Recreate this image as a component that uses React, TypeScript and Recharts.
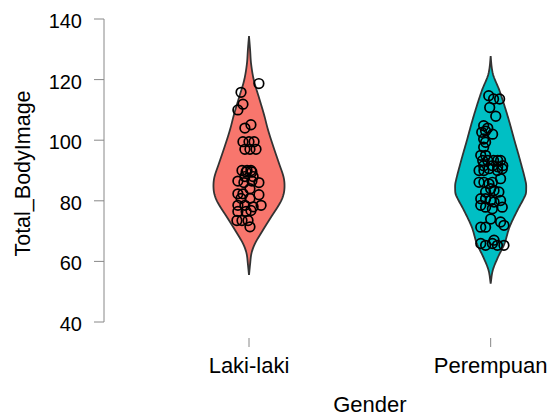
import React from 'react';
import { ComposedChart, Scatter, XAxis, YAxis } from 'recharts';

const categories = ['Laki-laki', 'Perempuan'];
const categoryPositions = [1, 2];
const yTicks = [40, 60, 80, 100, 120, 140];
const fills = ['#F8766D', '#00BFC4'];

// observed scores (Total_BodyImage) and horizontal jitter (x-axis units)
const lakiValues = [118.7, 115.8, 111.9, 110.0, 105.1, 104.0, 99.5, 99.5, 99.5, 97, 97, 97, 90, 90, 90, 89.5, 89.5, 88, 88, 86.5, 86, 86.5, 86, 84, 82.3, 82.3, 82, 80.8, 80.8, 78.5, 78.5, 78, 78.5, 76.5, 76.5, 76.8, 73.5, 73.5, 73.5, 71.4];
const lakiJitter = [0.041, -0.033, -0.025, -0.046, 0.008, -0.017, -0.025, 0, 0.021, -0.017, 0.004, 0.029, -0.029, -0.008, 0.008, -0.012, 0.012, -0.017, 0.017, -0.046, -0.021, 0.012, 0.041, 0.004, -0.046, -0.025, 0.041, -0.033, 0.004, -0.046, -0.017, 0.017, 0.05, -0.046, -0.012, 0.008, -0.05, -0.029, -0.004, 0.004];

const perempuanValues = [114.7, 113.6, 113.6, 110.8, 107.9, 104.8, 104, 103, 102.6, 102, 100.4, 99.3, 97.7, 95, 95, 93.3, 93.3, 93.3, 93.3, 93.3, 91.6, 91.6, 91.2, 91.6, 90, 90, 90.6, 90, 90.6, 86.1, 86.1, 85.6, 86.1, 87.3, 84, 83.4, 82.9, 82.9, 80.7, 80.7, 80.1, 79.6, 80.1, 78.5, 77.9, 77.4, 77.9, 74, 73, 71.9, 71.3, 71.3, 65.9, 65.3, 65.9, 65.3, 65.3, 67];
const perempuanJitter = [-0.008, 0.012, 0.037, -0.004, 0.021, -0.029, -0.012, -0.021, -0.037, 0.008, -0.029, -0.021, -0.029, -0.041, -0.021, -0.012, -0.033, 0.012, 0.029, 0.041, -0.029, 0.008, 0.029, 0.05, -0.048, -0.028, -0.007, 0.028, 0.048, -0.048, -0.028, -0.007, 0.007, 0.041, 0, 0.014, 0.034, -0.021, -0.041, -0.021, 0, 0.014, 0.041, -0.041, -0.021, 0.007, 0.048, 0, 0.041, 0.055, -0.041, -0.021, -0.041, -0.021, 0.007, 0.028, 0.055, 0.014];

// violin density profile (relative width)
const lakiProfileValues = [55.5, 59, 62.7, 65.9, 70.3, 74.6, 79, 82, 85, 88, 92.2, 97.7, 103.2, 108.6, 114.1, 119.6, 125.1, 130, 134.4];
const lakiProfileDensity = [0, 0.03, 0.07, 0.17, 0.39, 0.62, 0.86, 0.97, 1.0, 0.97, 0.85, 0.69, 0.54, 0.42, 0.28, 0.14, 0.06, 0.03, 0];
const perempuanProfileValues = [52.7, 57.1, 61.5, 65.9, 71.3, 76.8, 82, 84, 86, 93.3, 99.9, 107.5, 116.3, 121.2, 124, 127.8];
const perempuanProfileDensity = [0, 0.06, 0.21, 0.39, 0.53, 0.75, 0.98, 1.0, 0.99, 0.83, 0.67, 0.49, 0.25, 0.08, 0.03, 0];

const MAX_HALF_WIDTH = 0.147;
const FONT = 'Arial, "Liberation Sans", Helvetica, sans-serif';

function sampleProfile(vals: number[], dens: number[], n: number) {
  const out: { v: number; d: number }[] = [];
  const m = vals.map((_, i) => {
    if (i === 0) return (dens[1] - dens[0]) / (vals[1] - vals[0]);
    if (i === vals.length - 1) return (dens[i] - dens[i - 1]) / (vals[i] - vals[i - 1]);
    return (dens[i + 1] - dens[i - 1]) / (vals[i + 1] - vals[i - 1]);
  });
  const lo = vals[0];
  const hi = vals[vals.length - 1];
  for (let k = 0; k <= n; k++) {
    const v = lo + ((hi - lo) * k) / n;
    let i = 0;
    while (i < vals.length - 2 && v > vals[i + 1]) i++;
    const h = vals[i + 1] - vals[i];
    const t = (v - vals[i]) / h;
    const t2 = t * t;
    const t3 = t2 * t;
    const d =
      (2 * t3 - 3 * t2 + 1) * dens[i] +
      (t3 - 2 * t2 + t) * h * m[i] +
      (-2 * t3 + 3 * t2) * dens[i + 1] +
      (t3 - t2) * h * m[i + 1];
    out.push({ v, d: Math.max(0, d) });
  }
  return out;
}

function violinOutline(center: number, vals: number[], dens: number[]) {
  const s = sampleProfile(vals, dens, 160);
  const left = s.slice().reverse().map((p) => ({ x: center - p.d * MAX_HALF_WIDTH, y: p.v }));
  const right = s.map((p) => ({ x: center + p.d * MAX_HALF_WIDTH, y: p.v }));
  return [...left, ...right, left[0]];
}

const lakiViolin = violinOutline(categoryPositions[0], lakiProfileValues, lakiProfileDensity);
const perempuanViolin = violinOutline(categoryPositions[1], perempuanProfileValues, perempuanProfileDensity);
const lakiPoints = lakiValues.map((v, i) => ({ x: categoryPositions[0] + lakiJitter[i], y: v }));
const perempuanPoints = perempuanValues.map((v, i) => ({ x: categoryPositions[1] + perempuanJitter[i], y: v }));

const X_DOMAIN: [number, number] = [0.4, 2.2];

const NoShape = () => <g />;
const OpenCircle = (props: any) => (
  <circle cx={props.cx} cy={props.cy} r={4.8} fill="none" stroke="#000" strokeWidth={1.7} />
);

const XTick = (props: any) => {
  const { x, y, payload } = props;
  const idx = categoryPositions.indexOf(payload.value);
  return (
    <g>
      <line x1={x} x2={x} y1={y + 16} y2={y + 25} stroke="#888" strokeWidth={1} />
      <text x={x} y={y + 51} textAnchor="middle" fontSize={22} fontFamily={FONT} fill="#000">
        {categories[idx]}
      </text>
    </g>
  );
};

const YTick = (props: any) => {
  const { x, y, payload } = props;
  return (
    <text x={x} y={y + 9} textAnchor="end" fontSize={20} fontFamily={FONT} fill="#000">
      {payload.value}
    </text>
  );
};

const YLabel = (props: any) => {
  const vb = props.viewBox;
  const cx = vb.x + 30;
  const cy = vb.y + vb.height / 2 + 3;
  return (
    <text x={cx} y={cy} transform={`rotate(-90, ${cx}, ${cy})`} textAnchor="middle" fontSize={21.5} fontFamily={FONT} fill="#000">
      Total_BodyImage
    </text>
  );
};

const XLabel = (props: any) => {
  const vb = props.viewBox;
  const mid = (categoryPositions[0] + categoryPositions[1]) / 2;
  const cx = vb.x + ((mid - X_DOMAIN[0]) / (X_DOMAIN[1] - X_DOMAIN[0])) * vb.width;
  return (
    <text x={cx} y={vb.y + 90} textAnchor="middle" fontSize={22} fontFamily={FONT} fill="#000">
      Gender
    </text>
  );
};

export default function App() {
  return (
    <div style={{ position: 'absolute', left: 0, top: 0, width: 549, height: 419, background: '#fff' }}>
      <ComposedChart width={549} height={419} margin={{ top: 19, right: 10, bottom: 0, left: 0 }}>
        <XAxis
          type="number"
          dataKey="x"
          domain={X_DOMAIN}
          ticks={categoryPositions}
          allowDataOverflow
          axisLine={false}
          tickLine={false}
          tickSize={0}
          tickMargin={0}
          height={97}
          tick={<XTick />}
          label={<XLabel />}
        />
        <YAxis
          type="number"
          dataKey="y"
          domain={[40, 140]}
          ticks={yTicks}
          allowDataOverflow
          width={104}
          axisLine={{ stroke: '#888', strokeWidth: 1 }}
          tickLine={{ stroke: '#888', strokeWidth: 1 }}
          tickSize={10}
          tickMargin={12}
          tick={<YTick />}
          label={<YLabel />}
        />
        <Scatter
          data={lakiViolin}
          shape={NoShape}
          line={{ stroke: '#333', strokeWidth: 1.8, fill: fills[0] }}
          lineJointType="linear"
          isAnimationActive={false}
        />
        <Scatter
          data={perempuanViolin}
          shape={NoShape}
          line={{ stroke: '#333', strokeWidth: 1.8, fill: fills[1] }}
          lineJointType="linear"
          isAnimationActive={false}
        />
        <Scatter data={lakiPoints} shape={OpenCircle} isAnimationActive={false} />
        <Scatter data={perempuanPoints} shape={OpenCircle} isAnimationActive={false} />
      </ComposedChart>
    </div>
  );
}
